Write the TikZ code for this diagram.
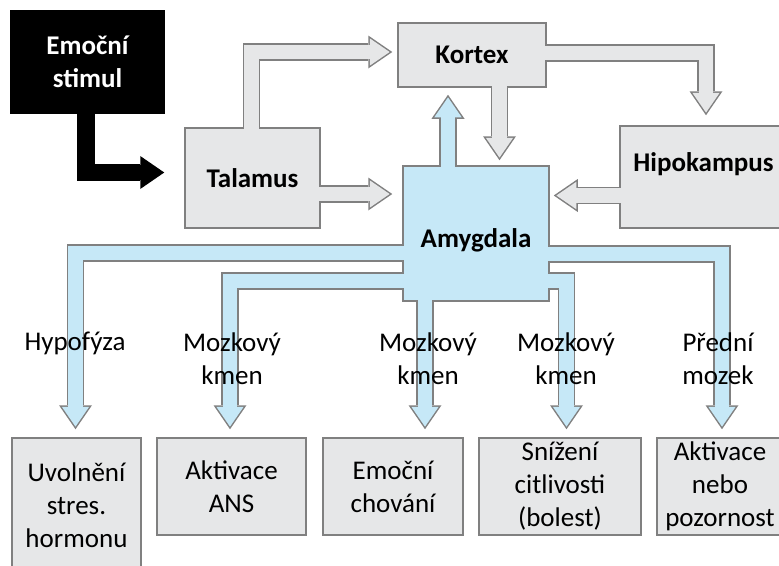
\documentclass[tikz,border=0pt]{standalone}
\usepackage{fontspec}
\setmainfont{Carlito}
\usetikzlibrary{arrows.meta, calc}
\definecolor{boxgray}{HTML}{E6E7E8}
\definecolor{amyblue}{HTML}{C6E8F7}
\definecolor{edgegray}{HTML}{808080}
\newcommand{\lblfont}{\fontsize{27pt}{33pt}\selectfont}

\begin{document}
\begin{tikzpicture}[
  x=1pt, y=-1pt,
  box/.style={
    rectangle, draw=edgegray, fill=boxgray, line width=1.5pt,
    inner sep=0pt, align=center, font=\lblfont
  },
  boldbox/.style={box, font=\lblfont\bfseries},
  fat/.style={
    draw=edgegray, line width=17.5pt, shorten <=-1.5pt,
    -{Triangle[length=24pt, width=33pt, line width=0pt 0 0]},
    postaction={draw=#1, line width=14.5pt, shorten >=2.65pt,
      -{Triangle[length=19.85pt, width=27.3pt, line width=0pt 0 0]}}
  },
  fat/.default=boxgray,
  tag/.style={align=center, font=\lblfont, inner sep=0pt}
]
\useasboundingbox (0,0) rectangle (779,565);

% Horni cast
\node[box, fill=black, draw=black, text=white, font=\lblfont\bfseries,
      minimum width=153pt, minimum height=102pt] (stim) at (87.5,62) {Emoční\\stimul};
\node[boldbox, minimum width=135pt, minimum height=100pt] (tal) at (252.5,178) {Talamus};
\node[boldbox, minimum width=148pt, minimum height=64pt] (kor) at (472,55) {Kortex};
\node[boldbox, minimum width=167pt, minimum height=102pt] (hip) at (703.5,177) {Hipokampus\\[-4pt]\mbox{}};
\node[boldbox, fill=amyblue, minimum width=146pt, minimum height=135pt,
      text height=32pt] (amy) at (476,233.5) {Amygdala};

% Dolni boxy
\node[box, minimum width=129pt, minimum height=134pt] (b1) at (76.5,505) {Uvolnění\\stres.\\hormonu};
\node[box, minimum width=149pt, minimum height=97pt] (b2) at (231.5,486.5) {Aktivace\\ANS};
\node[box, minimum width=140pt, minimum height=97pt] (b3) at (393,486.5) {Emoční\\chování};
\node[box, minimum width=162pt, minimum height=97pt] (b4) at (560,486.5) {Snížení\\citlivosti\\(bolest)};
\node[box, minimum width=126pt, minimum height=97pt] (b5) at (720,486.5) {Aktivace\\nebo\\pozornost};

% Sipky nahore
\draw[fat=black, draw=black] ($(stim.south)+(-1.5,0)$) |- ($(tal.west)+(-20,-5.5)$);
\draw[fat] ($(tal.north)+(-1,0)$) |- ($(kor.west)+(-5,-3)$);
\draw[fat] ($(tal.east)+(0,16)$) -- ($(amy.west |- tal.east)+(-10,16)$);
\draw[fat=amyblue] ($(amy.north)+(-28,0)$) -- ($(amy.north |- kor.south)+(-28,7)$);
\draw[fat] ($(kor.south)+(27.5,0)$) -- ($(kor.south |- amy.north)+(27.5,-5)$);
\draw[fat] ($(kor.east)+(0,-2)$) -| ($(hip.north)+(2.5,-10)$);
\draw[fat] ($(hip.west)+(0,18.5)$) -- ($(amy.east |- hip.west)+(4,18.5)$);

% Vystupy z amygdaly
\draw[fat=amyblue] ($(amy.west)+(0,19.5)$) -| ($(b1.north)+(-1,-8)$);
\draw[fat=amyblue] ($(amy.west)+(0,47.5)$) -| ($(b2.north)+(-1.5,-8)$);
\draw[fat=amyblue] ($(amy.south)+(-51,0)$) -- ($(amy.south |- b3.north)+(-51,-8)$);
\draw[fat=amyblue] ($(amy.east)+(0,47.5)$) -| ($(b4.north)+(6.5,-8)$);
\draw[fat=amyblue] ($(amy.east)+(0,20.5)$) -| ($(b5.north)+(2,-8)$);

% Popisky
\node[tag] (l1) at (75,343) {Hypofýza};
\node[tag] (l2) at (232,359) {Mozkový\\kmen};
\node[tag] (l3) at (428,359) {Mozkový\\kmen};
\node[tag] (l4) at (566,359) {Mozkový\\kmen};
\node[tag] (l5) at (718,359) {Přední\\mozek};

\end{tikzpicture}
\end{document}
